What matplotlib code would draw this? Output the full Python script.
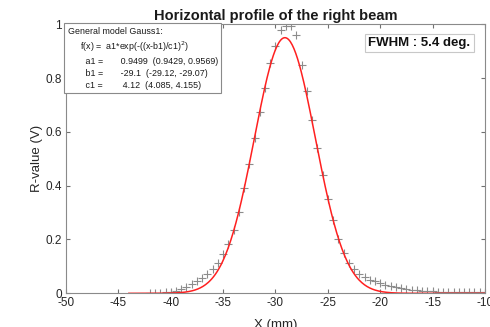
import numpy as np
import matplotlib
matplotlib.use("Agg")
import matplotlib.pyplot as plt

plt.rcParams['font.family'] = ['Liberation Sans', 'DejaVu Sans']
plt.rcParams['axes.unicode_minus'] = False

# measured profile (x in mm, R-value in V)
x_mm = np.arange(-42, -9.99, 0.5)
r_val = [0.002, 0.002, 0.003, 0.004, 0.006, 0.010, 0.016, 0.024, 0.034, 0.045,
         0.057, 0.071, 0.090, 0.114, 0.145, 0.185, 0.236, 0.302, 0.390, 0.479,
         0.578, 0.672, 0.764, 0.855, 0.920, 0.977, 0.995, 0.993, 0.960, 0.850,
         0.750, 0.645, 0.540, 0.440, 0.350, 0.271, 0.200, 0.150, 0.112, 0.090,
         0.072, 0.059, 0.050, 0.044, 0.038, 0.032, 0.028, 0.023, 0.019, 0.016,
         0.013, 0.011, 0.009, 0.008, 0.007, 0.006, 0.006, 0.005, 0.005, 0.005,
         0.004, 0.004, 0.004, 0.004, 0.004]

# Gauss1 fit parameters
a1, b1, c1 = 0.9499, -29.1, 4.12
fit_range = (-44, -10)

xticks = [-50, -45, -40, -35, -30, -25, -20, -15, -10]
yticks = [0, 0.2, 0.4, 0.6, 0.8, 1]
ytick_labels = ['0', '0.2', '0.4', '0.6', '0.8', '1']

fig = plt.figure(figsize=(4.9, 3.27), dpi=100)
ax = fig.add_axes([0.1347, 0.103, 0.855, 0.823])

xf = np.linspace(fit_range[0], fit_range[1], 400)
ax.plot(x_mm, r_val, '+', color='#8c8c8c', ms=6, mew=0.8)
ax.plot(xf, a1 * np.exp(-((xf - b1) / c1) ** 2), color='#ff2020', lw=1.1)

ax.set_xlim(-50, -10)
ax.set_ylim(0, 1)
ax.set_xticks(xticks)
ax.set_yticks(yticks)
ax.set_yticklabels(ytick_labels)
ax.tick_params(direction='in', top=True, right=True, length=3, width=0.8,
               color='#707070', labelcolor='#262626', labelsize=8.5, pad=3)
for s in ax.spines.values():
    s.set_color('#8a8a8a')
    s.set_linewidth(0.8)

ax.set_title('Horizontal profile of the right beam', fontsize=10.5, fontweight='bold',
             color='#1a1a1a', pad=3)
ax.set_xlabel('X (mm)', fontsize=9.5, color='#262626', labelpad=7)
ax.set_ylabel('R-value (V)', fontsize=9.5, color='#262626', labelpad=2)

txt = ('General model Gauss1:\n'
       '     f(x) =  a1*exp(-((x-b1)/c1)$^2$)\n'
       '       a1 =       0.9499  (0.9429, 0.9569)\n'
       '       b1 =       -29.1  (-29.12, -29.07)\n'
       '       c1 =        4.12  (4.085, 4.155)')
ax.text(0.004, 0.99, txt, transform=ax.transAxes, fontsize=6.4, va='top', ha='left',
        color='#1a1a1a', linespacing=1.4,
        bbox=dict(boxstyle='square,pad=0.4', fc='white', ec='#8a8a8a', lw=0.8))

ax.text(0.965, 0.93, 'FWHM : 5.4 deg.', transform=ax.transAxes, fontsize=9.5,
        fontweight='bold', va='center', ha='right', color='#111111',
        bbox=dict(boxstyle='square,pad=0.25', fc='white', ec='#c8c8c8', lw=0.8))

fig.savefig('out.png', dpi=100)
